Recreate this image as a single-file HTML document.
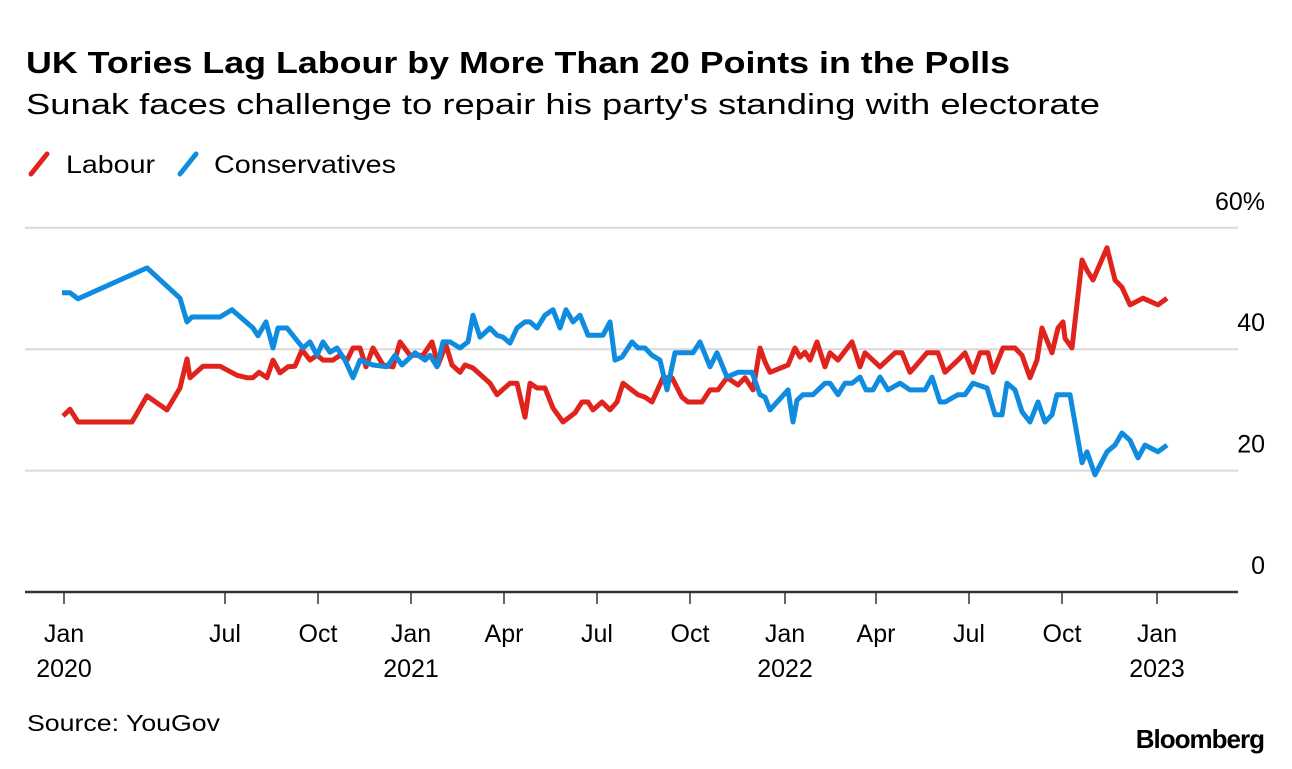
<!DOCTYPE html>
<html><head><meta charset="utf-8">
<style>
html,body{margin:0;padding:0;background:#fff;}
body{width:1292px;height:764px;overflow:hidden;font-family:"Liberation Sans",sans-serif;}
svg text{font-family:"Liberation Sans",sans-serif;}
</style></head>
<body>
<svg id="chart" width="1292" height="764" viewBox="0 0 1292 764">
<text x="26" y="73" font-size="31" font-weight="bold" fill="#000" textLength="984" lengthAdjust="spacingAndGlyphs">UK Tories Lag Labour by More Than 20 Points in the Polls</text>
<text x="26" y="114" font-size="29" fill="#000" textLength="1074" lengthAdjust="spacingAndGlyphs">Sunak faces challenge to repair his party's standing with electorate</text>
<g>
<g>
<line x1="31" y1="174" x2="47" y2="154" stroke="#e0241d" stroke-width="5" stroke-linecap="round"/>
<text x="66" y="173" font-size="25" fill="#000" textLength="89" lengthAdjust="spacingAndGlyphs">Labour</text></g>
<g>
<line x1="180" y1="174" x2="196" y2="154" stroke="#0f8ce0" stroke-width="5" stroke-linecap="round"/>
<text x="214" y="173" font-size="25" fill="#000" textLength="182" lengthAdjust="spacingAndGlyphs">Conservatives</text></g>
</g>
<g id="grid"></g><g id="axes"></g><g id="lines"></g>
<text x="27" y="731" font-size="23" fill="#000" textLength="193" lengthAdjust="spacingAndGlyphs">Source: YouGov</text>
<text x="1264" y="748" font-size="26" font-weight="bold" text-anchor="end" fill="#000" letter-spacing="-1">Bloomberg</text>
</svg>
<script>
const yTicks=[0,20,40,60];
const yTickLabels=["0","20","40","60%"];
const xTickDays=[0,161,254,347,440,533,626,721,812,905,998,1093];
const xTickMonths=["Jan","Jul","Oct","Jan","Apr","Jul","Oct","Jan","Apr","Jul","Oct","Jan"];
const xTickYears=["2020","","","2021","","","","2022","","","","2023"];
const labourDays=[-1,6,14,68,83,103,116,123,126,139,156,173,183,189,195,203,209,216,224,231,238,246,253,259,269,276,283,289,296,302,309,319,329,336,346,359,368,374,379,381,388,396,401,409,426,433,446,453,461,466,473,481,489,499,511,518,524,529,538,546,553,559,574,581,588,599,608,618,624,638,646,654,663,674,681,689,696,701,706,724,731,736,741,746,753,761,766,774,788,796,801,816,831,838,846,851,863,874,881,894,901,909,916,924,929,939,951,958,966,973,978,988,994,999,1001,1008,1018,1023,1029,1043,1051,1058,1066,1079,1094,1103];
const labourVals=[29,30.1,28,28,32.3,30,33.6,38.4,35.3,37.2,37.2,35.7,35.3,35.3,36.2,35.3,38.2,36.1,37.1,37.2,39.9,38.2,39,38.2,38.2,39,38.2,40.2,40.2,37.1,40.2,37.4,37.1,41.2,39,39,41.2,37.4,39.5,41.2,37.4,36.2,37.4,36.9,34.4,32.5,34.4,34.4,28.8,34.4,33.6,33.6,30.3,28,29.5,31.3,31.3,30,31.3,30,31.3,34.4,32.5,32.1,31.3,35.3,35.3,32.1,31.3,31.3,33.3,33.3,35.3,34.1,35.3,33.3,40.2,37.9,36.2,37.4,40.2,38.7,39.5,38.2,41.2,37.1,39.4,38.2,41.2,37.1,39.4,37.1,39.4,39.4,36.2,37.1,39.4,39.4,36.2,38.2,39.4,36.2,39.4,39.4,36.2,40.2,40.2,39,35.3,38.2,43.5,39.4,43.5,44.5,41.8,40.2,54.7,53,51.4,56.7,51.4,50.2,47.3,48.4,47.3,48.4,48.4,46.1,47.6];
const consDays=[-2,6,14,83,116,123,128,156,168,189,194,202,209,214,223,239,246,253,259,266,273,281,289,296,309,323,331,338,351,361,366,373,379,386,396,404,409,416,426,433,439,446,453,461,466,473,481,489,496,502,509,516,524,539,546,551,558,568,574,581,588,596,603,611,629,636,646,653,663,674,688,696,701,706,724,729,733,739,749,761,766,774,781,788,796,802,809,816,824,836,846,861,868,876,881,894,901,909,923,931,938,943,951,958,966,974,981,988,993,1006,1018,1023,1031,1043,1051,1058,1066,1074,1081,1094,1103];
const consVals=[49.3,49.3,48.3,53.4,48.4,44.5,45.3,45.3,46.5,43.5,42.2,44.5,40.2,43.5,43.5,40.2,41.2,39,41.2,39.5,40.2,38.2,35.3,38.2,37.4,37.1,39,37.4,39.4,38.2,39,37.1,41.2,41.2,40.2,41.2,45.6,42,43.5,42.3,42,41,43.5,44.5,44.5,43.5,45.6,46.5,43.5,46.5,44.5,45.6,42.3,42.3,44.5,38.2,38.7,41.2,40.2,40.2,39,38.2,33.3,39.4,39.4,41.2,37.1,39.4,35.4,36.2,36.2,32.5,32.1,30,33.3,28,31.6,32.5,32.5,34.4,34.4,32.5,34.4,34.4,35.4,33.3,33.3,35.4,33.3,34.4,33.3,33.3,35.4,31.3,31.3,32.5,32.5,34.4,33.6,29.2,29.2,34.4,33.3,29.7,28,31.3,28,29.2,32.5,32.5,21.3,23.1,19.3,23.1,24.2,26.2,25,22.1,24.2,23.1,24.2,25,25];

const NS="http://www.w3.org/2000/svg";
const X0=64, Y0=592, PXD=1.0, PXV=6.07;
function xs(d){return X0+d*PXD;}
function ys(v){return Y0-v*PXV;}
const grid=document.getElementById('grid'),axes=document.getElementById('axes'),lines=document.getElementById('lines');
yTicks.forEach((t,i)=>{
  if(t>0){const l=document.createElementNS(NS,'line');
  l.setAttribute('x1',25);l.setAttribute('x2',1238);l.setAttribute('y1',ys(t));l.setAttribute('y2',ys(t));
  l.setAttribute('stroke','#d9d9d9');l.setAttribute('stroke-width',2);
  
  
  grid.appendChild(l);}
  const tx=document.createElementNS(NS,'text');
  tx.setAttribute('x',1265);tx.setAttribute('y',ys(t)-18);tx.setAttribute('text-anchor','end');
  tx.setAttribute('font-size',25);tx.textContent=yTickLabels[i];
  
  
  axes.appendChild(tx);
});
const base=document.createElementNS(NS,'line');
base.setAttribute('x1',25);base.setAttribute('x2',1238);base.setAttribute('y1',Y0);base.setAttribute('y2',Y0);
base.setAttribute('stroke','#333');base.setAttribute('stroke-width',2.5);


axes.appendChild(base);
xTickDays.forEach((d,i)=>{
  const x=xs(d);
  const l=document.createElementNS(NS,'line');
  l.setAttribute('x1',x);l.setAttribute('x2',x);l.setAttribute('y1',Y0);l.setAttribute('y2',Y0+12);
  l.setAttribute('stroke','#333');l.setAttribute('stroke-width',1.5);
  
  
  axes.appendChild(l);
  const t=document.createElementNS(NS,'text');
  t.setAttribute('x',x);t.setAttribute('y',642);t.setAttribute('text-anchor','middle');t.setAttribute('font-size',25);
  t.textContent=xTickMonths[i];
  
  
  axes.appendChild(t);
  if(xTickYears[i]){const y=document.createElementNS(NS,'text');
  y.setAttribute('x',x);y.setAttribute('y',677);y.setAttribute('text-anchor','middle');y.setAttribute('font-size',25);
  y.textContent=xTickYears[i];
  
  
  axes.appendChild(y);}
});
function drawLine(days,vals,color,name){
  const p=document.createElementNS(NS,'polyline');
  p.setAttribute('points',days.map((d,i)=>xs(d).toFixed(1)+','+ys(vals[i]).toFixed(1)).join(' '));
  p.setAttribute('fill','none');p.setAttribute('stroke',color);p.setAttribute('stroke-width',5);
  p.setAttribute('stroke-linejoin','round');
  
  
  lines.appendChild(p);
}
drawLine(labourDays,labourVals,'#e0241d','labour-line');
drawLine(consDays,consVals,'#0f8ce0','conservatives-line');
</script>
</body></html>
